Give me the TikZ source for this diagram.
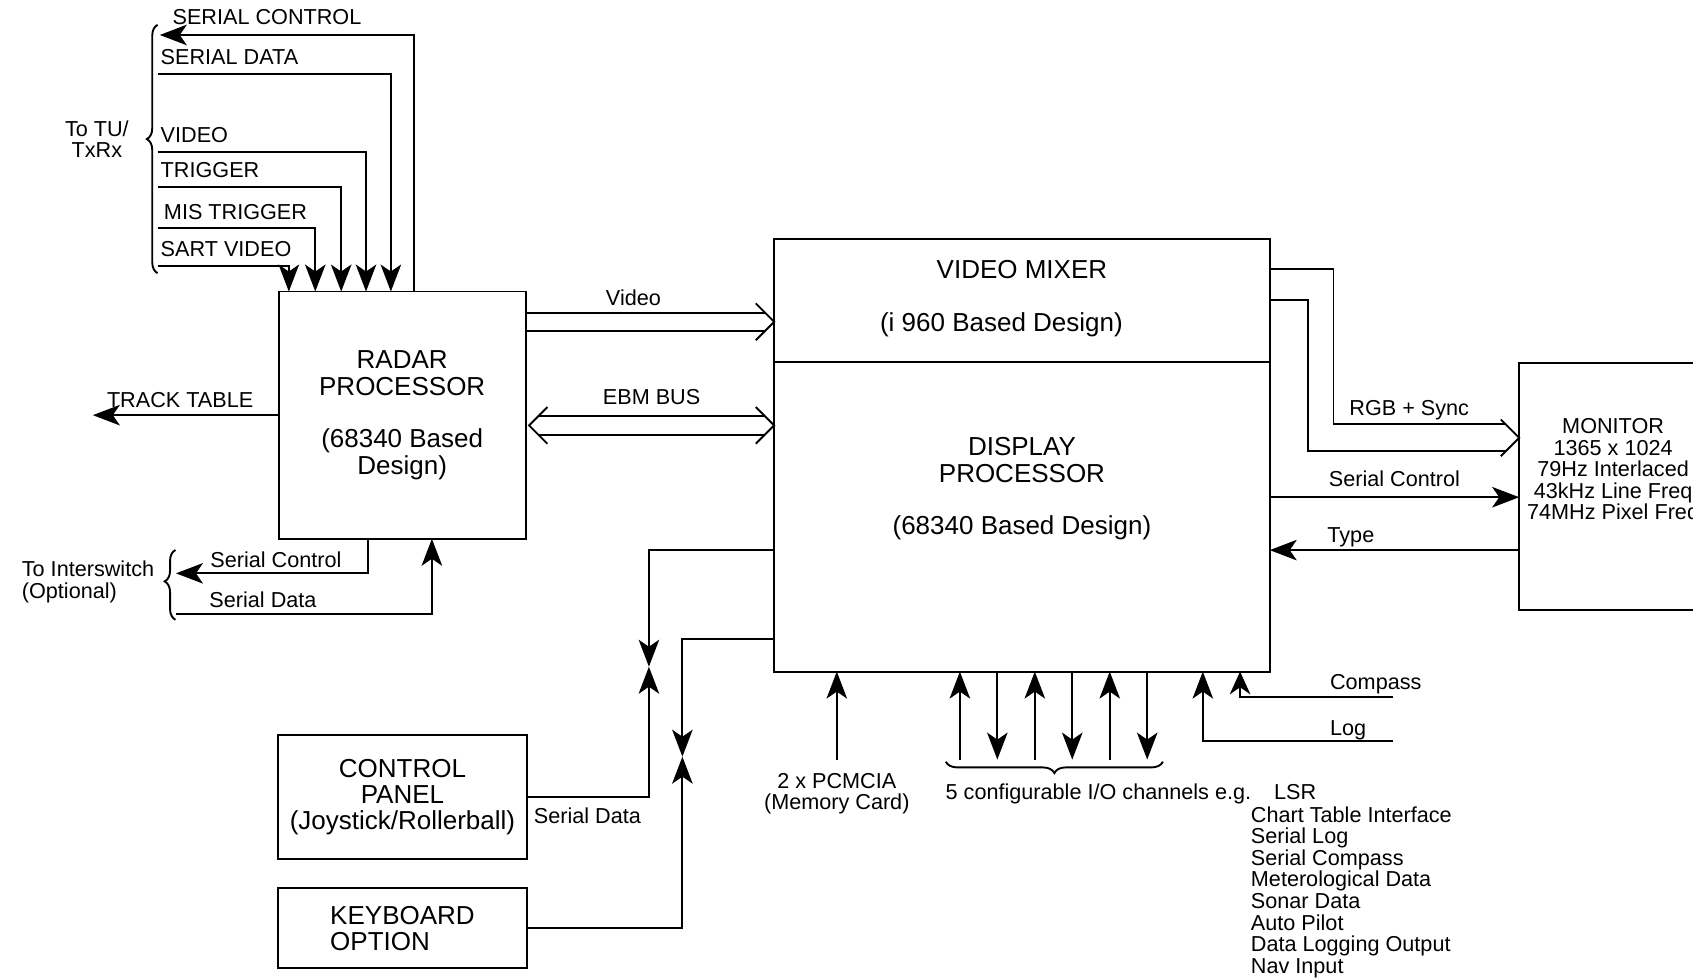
\documentclass[tikz,border=0pt]{standalone}
\usepackage{fontspec}
\setmainfont{Liberation Sans}
\usetikzlibrary{arrows.meta, positioning, decorations.pathreplacing, calc}

\begin{document}
\begin{tikzpicture}[
    x=0.2mm, y=-0.2mm,
    line width=1pt,
    big/.style={font=\fontsize{13.7}{13.9}\selectfont, align=center},
    lbl/.style={font=\fontsize{11.4}{11.4}\selectfont},
    blk/.style={draw, big, outer sep=0pt},
    tag/.style={lbl, anchor=south west, inner xsep=0.4mm, inner ysep=1.5mm},
    arr/.style={-{Stealth[length=#1, width=3.8mm, inset=1.3mm]}},
    arr/.default=5mm,
    brc/.style={decorate, decoration={brace, amplitude=#1}},
    chev/.pic={\draw (-3.4mm,3.4mm) -- (0,0) -- (-3.4mm,-3.4mm);}
]
\useasboundingbox (0,0) rectangle (1568,906);

    % main blocks
    \node[blk, minimum width=45.8mm, minimum height=45.8mm] (radar) at (372.5,384.5)
        {RADAR\\PROCESSOR\\[13.9pt](68340 Based\\Design)};
    \node[blk, minimum width=91.8mm, minimum height=22.8mm] (mixer) at (946.5,278) {};
    \node[big, inner sep=0pt, below=3.9mm of mixer.north] (mxtext)
        {VIDEO MIXER\\[13.9pt](i 960 Based Design)\hspace*{7.6mm}};
    \node[blk, minimum width=91.8mm, minimum height=57.4mm, below=0pt of mixer] (display) {};
    \node[big, inner sep=0pt, below=13.9mm of display.north] (dptext)
        {DISPLAY\\PROCESSOR\\[13.9pt](68340 Based Design)};
    \node[blk, minimum width=42.6mm, minimum height=45.8mm] (monitor) at (1513.5,450.5) {};
    \node[lbl, align=center, anchor=north, inner sep=0pt] (montext)
        at ([shift={(17.4mm,-10.1mm)}]monitor.north west)
        {MONITOR\\1365 x 1024\\79Hz Interlaced\\43kHz Line Freq\\74MHz Pixel Freq};
    \node[blk, minimum width=46mm, minimum height=23mm] (cp) at (372.75,738.2)
        {CONTROL\\PANEL\\(Joystick/Rollerball)};
    \node[blk, minimum width=46mm, minimum height=14.8mm, align=left, below=5.4mm of cp] (kb)
        {KEYBOARD\\OPTION};

    % to TU/TxRx
    \coordinate (sctl) at (148,32.4);
    \coordinate (sdat) at (146,68.5);
    \coordinate (svid) at (146,140.5);
    \coordinate (strg) at (146,172.9);
    \coordinate (smis) at (146,211.5);
    \coordinate (ssrt) at (146,246.4);
    \coordinate (tutop) at (146,23);
    \coordinate (tubot) at (146,253);
    \coordinate (tutip) at (136,129);

    \draw[arr] ([xshift=25.1mm]radar.north west) |- (sctl)
        node[tag, pos=1, xshift=1.8mm, yshift=0.3mm] {SERIAL CONTROL};
    \draw[arr] (sdat) -| ([xshift=20.8mm]radar.north west) node[tag, pos=0] {SERIAL DATA};
    \draw[arr] (svid) -| ([xshift=16.2mm]radar.north west) node[tag, pos=0] {VIDEO};
    \draw[arr] (strg) -| ([xshift=11.6mm]radar.north west) node[tag, pos=0] {TRIGGER};
    \draw[arr] (smis) -| ([xshift=6.8mm]radar.north west) node[tag, pos=0, xshift=0.6mm] {MIS TRIGGER};
    \draw[arr] (ssrt) -| ([xshift=1.9mm]radar.north west) node[tag, pos=0] {SART VIDEO};
    \draw[brc=2mm, decoration={aspect=0.54}] (tubot) -- (tutop);
    \node[lbl, align=center, left=2mm of tutip] (tutext) {To TU/\\TxRx};

    % track table
    \coordinate (track) at (86,384.5);
    \draw[arr] (radar.west) -- (track) node[lbl, pos=0.53, above] {TRACK TABLE};

    % to interswitch
    \coordinate (isctl) at (163,531);
    \coordinate (isdat) at (163,569);
    \coordinate (istop) at (162.5,509.4);
    \coordinate (isbot) at (162.5,574);
    \coordinate (istip) at (152.5,538.7);
    \draw[arr] ([xshift=16.6mm]radar.south west) |- (isctl)
        node[lbl, pos=0.74, above, inner ysep=0.8mm] {Serial Control};
    \draw[arr] (isdat) -| ([xshift=28.4mm]radar.south west)
        node[lbl, pos=0.17, above, inner ysep=1.1mm] {Serial Data};
    \draw[brc=2mm, decoration={aspect=0.55}] (isbot) -- (istop);
    \node[lbl, align=left, left=0.6mm of istip] (istext) {To Interswitch\\(Optional)};

    % video bus
    \coordinate (vidtip) at ([yshift=-4mm]mixer.west);
    \coordinate (vidtail) at (vidtip -| radar.east);
    \draw ([yshift=1.7mm]vidtail) -- ([shift={(-1.7mm,1.7mm)}]vidtip)
        node[lbl, pos=0.45, above] {Video};
    \draw ([yshift=-1.7mm]vidtail) -- ([shift={(-1.7mm,-1.7mm)}]vidtip);
    \pic at (vidtip) {chev};

    % EBM bus
    \coordinate (ebml) at ([shift={(0.6mm,-1.9mm)}]radar.east);
    \coordinate (ebmr) at (ebml -| display.west);
    \draw ([shift={(1.8mm,1.8mm)}]ebml) -- ([shift={(-1.8mm,1.8mm)}]ebmr)
        node[lbl, midway, above, inner ysep=1.8mm] {EBM BUS};
    \draw ([shift={(1.8mm,-1.8mm)}]ebml) -- ([shift={(-1.8mm,-1.8mm)}]ebmr);
    \pic at (ebmr) {chev};
    \pic[rotate=180] at (ebml) {chev};

    % monitor links
    \coordinate (rgbtip) at ([yshift=9mm]monitor.west);
    \draw ([yshift=-5.7mm]mixer.north east) -- ++(11.8mm,0) |- ([shift={(-2.5mm,2.5mm)}]rgbtip)
        node[lbl, pos=0.72, above, inner ysep=0.7mm] {RGB + Sync};
    \draw (mixer.east) -- ++(7mm,0) |- ([shift={(-2.5mm,-2.5mm)}]rgbtip);
    \pic at (rgbtip) {chev};
    \coordinate (msc) at ([yshift=32.3mm]display.south east);
    \coordinate (mtyp) at ([yshift=22.5mm]display.south east);
    \draw[arr] (msc) -- (msc -| monitor.west)
        node[lbl, midway, above, inner ysep=1.8mm] {Serial Control};
    \draw[arr] (mtyp -| monitor.west) -- (mtyp)
        node[lbl, pos=0.675, above, inner ysep=0.4mm] {Type};

    % control panel and keyboard
    \coordinate (bowa) at (601,617.5);
    \coordinate (bowb) at (632,700.8);
    \draw[arr] ([yshift=22.6mm]display.south west) -| (bowa);
    \draw[arr] (cp.east) -| (bowa) node[lbl, pos=0, below right, yshift=-0.6mm] {Serial Data};
    \draw[arr] ([yshift=6mm]display.south west) -| (bowb);
    \draw[arr] (kb.east) -| (bowb);

    % memory card
    \coordinate (pcm) at (775,704);
    \draw[arr] (pcm) node[lbl, below, align=center, inner sep=2.2mm] {2 x PCMCIA\\(Memory Card)}
        -- (pcm |- display.south);

    % I/O channels
    \foreach \i in {0,...,5} \coordinate (io\i) at ({889+34.7*\i},703.5);
    \foreach \i in {0,2,4} \draw[arr] (io\i) -- (io\i |- display.south);
    \foreach \i in {1,3,5} \draw[arr] (io\i |- display.south) -- (io\i);
    \coordinate (iobl) at (876,705.5);
    \coordinate (iobr) at (1077,705.5);
    \draw[brc=2.1mm, decoration={mirror}] (iobl) -- (iobr);
    \node[lbl, anchor=base west, inner sep=0pt] (iolbl) at (875,740.4) {5 configurable I/O channels e.g.};
    \node[lbl, anchor=base west, inner sep=0pt] (lsr) at ([xshift=3.9mm]iolbl.base east) {LSR};
    \node[lbl, align=left, anchor=north west, inner sep=0pt] (iolist) at (1157.7,746)
        {Chart Table Interface\\Serial Log\\Serial Compass\\Meterological Data\\Sonar Data\\Auto Pilot\\Data Logging Output\\Nav Input};

    % compass and log
    \coordinate (comp) at (1290.5,645.9);
    \coordinate (logc) at (1290.5,686.3);
    \draw[arr=4.2mm] (comp) node[lbl, anchor=base west, inner sep=0pt, xshift=-11.9mm, yshift=1.5mm] {Compass}
        -| ([xshift=-5.5mm]display.south east);
    \draw[arr] (logc) node[lbl, anchor=base west, inner sep=0pt, xshift=-11.9mm, yshift=1mm] {Log}
        -| ([xshift=-12.4mm]display.south east);
\end{tikzpicture}
\end{document}
